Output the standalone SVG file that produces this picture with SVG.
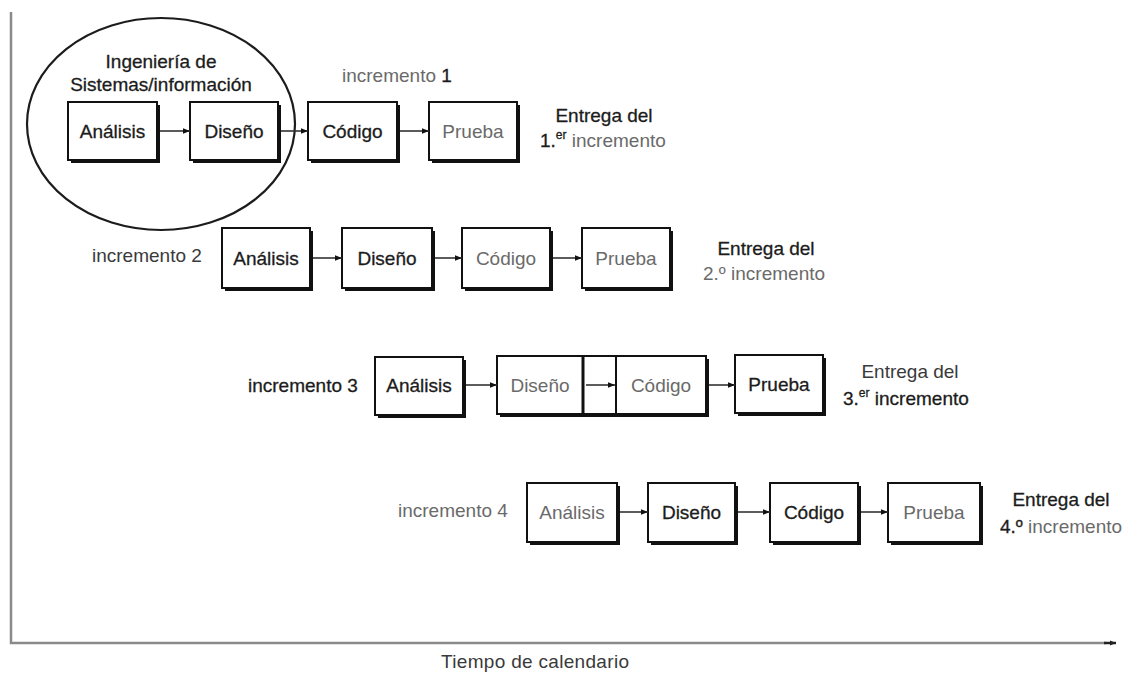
<svg xmlns="http://www.w3.org/2000/svg" width="1129" height="675" viewBox="0 0 1129 675">
<defs>
<style>
text{font-family:"Liberation Sans",Arial,sans-serif;font-size:19px}
.d{fill:#1c1c1c;stroke:#1c1c1c;stroke-width:0.3}
.g{fill:#6a6a6a}
.m{fill:#3a3a3a}
.c{text-anchor:middle}
.sh{fill:#111}
.bx{fill:#fff;stroke:#111;stroke-width:2}
.cn{stroke:#333;stroke-width:1.6;fill:none;marker-end:url(#ah)}
.ax{stroke:#8a8a8a;stroke-width:2.5;fill:none}
</style>
<marker id="ah" viewBox="0 0 10 10" refX="10" refY="5" markerWidth="7" markerHeight="7" markerUnits="userSpaceOnUse" orient="auto">
<path d="M0,1 L10,5 L0,9 z" fill="#111"/>
</marker>
<marker id="axh" viewBox="0 0 10 10" refX="10" refY="5" markerWidth="9" markerHeight="6" markerUnits="userSpaceOnUse" orient="auto">
<path d="M0,1 L10,5 L0,9 z" fill="#222"/>
</marker>
</defs>
<rect width="1129" height="675" fill="#fff"/>

<g id="axes">
<path class="ax" d="M11,12 L11,643 L1106,643"/>
<path d="M1104,643 L1116,643" stroke="#222" stroke-width="2.5" marker-end="url(#axh)"/>
<text class="m" x="535" y="668" text-anchor="middle" font-size="18" textLength="188">Tiempo de calendario</text>
</g>

<g id="ingenieria">
<ellipse cx="161" cy="124" rx="134" ry="106" fill="none" stroke="#1c1c1c" stroke-width="2.2"/>
<text class="d c" x="161" y="68">Ingeniería de</text>
<text class="d c" x="161" y="91">Sistemas/información</text>
</g>

<!-- Row 1 -->
<text id="lbl-inc1" class="g" x="342" y="82">incremento <tspan class="d">1</tspan></text>
<g id="r1-analisis"><rect class="sh" x="71" y="105" width="89" height="58"/><rect class="bx" x="68" y="102" width="89" height="58"/><text class="d c" x="112.5" y="138">Análisis</text></g>
<g id="r1-diseno"><rect class="sh" x="193" y="105" width="88" height="58"/><rect class="bx" x="190" y="102" width="88" height="58"/><text class="d c" x="234" y="138">Diseño</text></g>
<g id="r1-codigo"><rect class="sh" x="311" y="105" width="89" height="58"/><rect class="bx" x="308" y="102" width="89" height="58"/><text class="d c" x="352.5" y="138">Código</text></g>
<g id="r1-prueba"><rect class="sh" x="432" y="105" width="88" height="58"/><rect class="bx" x="429" y="102" width="88" height="58"/><text class="g c" x="473" y="138">Prueba</text></g>
<g id="r1-entrega"><text class="d c" x="604" y="122">Entrega del</text><text class="g" x="540" y="147"><tspan class="d">1.</tspan><tspan class="d" font-size="12" dy="-8">er</tspan><tspan dy="8"> incremento</tspan></text></g>

<!-- Row 2 -->
<text id="lbl-inc2" class="m" x="92" y="262">incremento 2</text>
<g id="r2-analisis"><rect class="sh" x="225" y="231" width="88" height="60"/><rect class="bx" x="222" y="228" width="88" height="60"/><text class="d c" x="266" y="265">Análisis</text></g>
<g id="r2-diseno"><rect class="sh" x="345" y="231" width="90" height="60"/><rect class="bx" x="342" y="228" width="90" height="60"/><text class="d c" x="387" y="265">Diseño</text></g>
<g id="r2-codigo"><rect class="sh" x="465" y="231" width="88" height="60"/><rect class="bx" x="462" y="228" width="88" height="60"/><text class="g c" x="506" y="265">Código</text></g>
<g id="r2-prueba"><rect class="sh" x="585" y="231" width="88" height="60"/><rect class="bx" x="582" y="228" width="88" height="60"/><text class="g c" x="626" y="265">Prueba</text></g>
<g id="r2-entrega"><text class="d c" x="766" y="255">Entrega del</text><text class="g" x="703" y="280">2.º  incremento</text></g>

<!-- Row 3 -->
<text id="lbl-inc3" class="d" x="248" y="392">incremento 3</text>
<g id="r3-analisis"><rect class="sh" x="378" y="360" width="88" height="58"/><rect class="bx" x="375" y="357" width="88" height="58"/><text class="d c" x="419" y="392">Análisis</text></g>
<g id="r3-diseno-codigo"><rect class="sh" x="500" y="359" width="209" height="58"/><rect class="bx" x="497" y="356" width="209" height="58"/>
<line x1="583" y1="356" x2="583" y2="414" stroke="#111" stroke-width="3"/>
<line x1="616" y1="356" x2="616" y2="414" stroke="#111" stroke-width="2"/>
<text class="g c" x="540" y="392">Diseño</text><text class="g c" x="661" y="392">Código</text></g>
<g id="r3-prueba"><rect class="sh" x="738" y="358" width="88" height="58"/><rect class="bx" x="735" y="355" width="88" height="58"/><text class="d c" x="779" y="391">Prueba</text></g>
<g id="r3-entrega"><text class="m c" x="910" y="378">Entrega del</text><text class="d" x="843" y="405">3.<tspan font-size="12" dy="-8">er</tspan><tspan dy="8"> incremento</tspan></text></g>

<!-- Row 4 -->
<text id="lbl-inc4" class="g" x="398" y="517">incremento 4</text>
<g id="r4-analisis"><rect class="sh" x="530" y="486" width="90" height="59"/><rect class="bx" x="527" y="483" width="90" height="59"/><text class="g c" x="572" y="519">Análisis</text></g>
<g id="r4-diseno"><rect class="sh" x="651" y="486" width="87" height="59"/><rect class="bx" x="648" y="483" width="87" height="59"/><text class="d c" x="691.5" y="519">Diseño</text></g>
<g id="r4-codigo"><rect class="sh" x="773" y="486" width="88" height="59"/><rect class="bx" x="770" y="483" width="88" height="59"/><text class="d c" x="814" y="519">Código</text></g>
<g id="r4-prueba"><rect class="sh" x="891" y="486" width="92" height="59"/><rect class="bx" x="888" y="483" width="92" height="59"/><text class="g c" x="934" y="519">Prueba</text></g>
<g id="r4-entrega"><text class="d c" x="1061" y="506">Entrega del</text><text class="g" x="1000" y="533"><tspan class="d">4.º</tspan> incremento</text></g>

<g id="connectors">
<line class="cn" x1="160" y1="131" x2="190" y2="131"/>
<line class="cn" x1="281" y1="131" x2="308" y2="131"/>
<line class="cn" x1="400" y1="131" x2="429" y2="131"/>
<line class="cn" x1="313" y1="258" x2="342" y2="258"/>
<line class="cn" x1="435" y1="258" x2="462" y2="258"/>
<line class="cn" x1="553" y1="258" x2="582" y2="258"/>
<line class="cn" x1="466" y1="385" x2="497" y2="385"/>
<line class="cn" x1="586" y1="385" x2="615" y2="385"/>
<line class="cn" x1="709" y1="385" x2="735" y2="385"/>
<line class="cn" x1="620" y1="512" x2="648" y2="512"/>
<line class="cn" x1="738" y1="512" x2="770" y2="512"/>
<line class="cn" x1="861" y1="512" x2="888" y2="512"/>
</g>
</svg>
